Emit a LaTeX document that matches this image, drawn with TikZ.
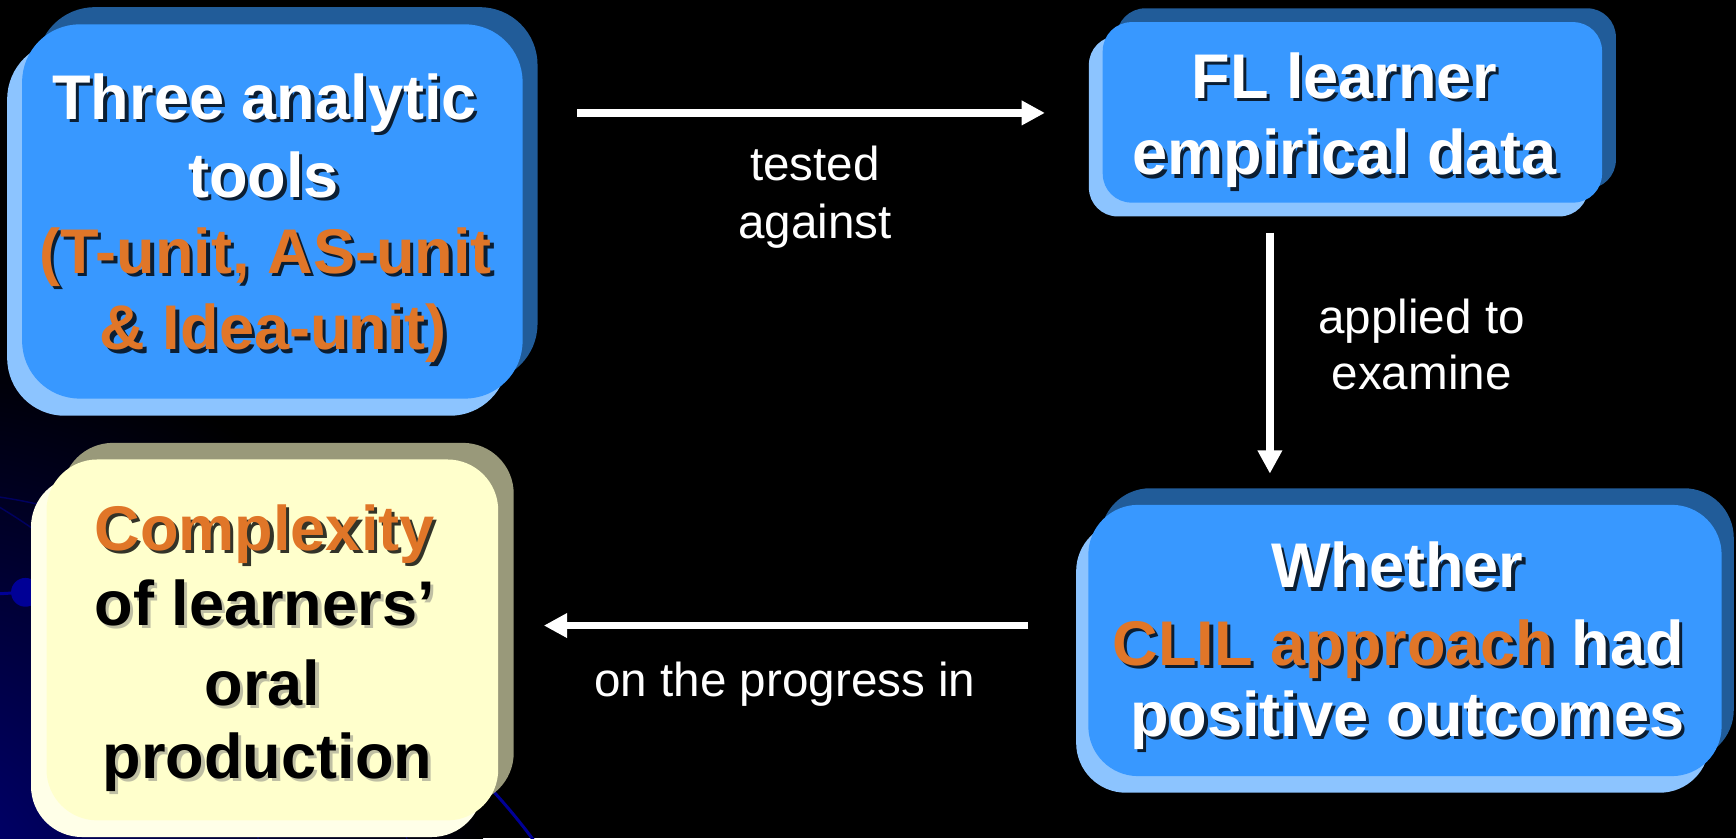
\documentclass[tikz,border=0pt]{standalone}
\usepackage{fontspec}
\setmainfont{Liberation Sans}
\usetikzlibrary{arrows.meta,calc,shadows}

\definecolor{facebl}{RGB}{56,152,255}
\definecolor{darkbl}{RGB}{33,92,153}
\definecolor{lightbl}{RGB}{140,196,255}
\definecolor{faceyl}{RGB}{255,255,204}
\definecolor{darkyl}{RGB}{153,153,122}
\definecolor{lightyl}{RGB}{255,255,232}
\definecolor{accent}{RGB}{224,118,40}
\definecolor{orbit}{RGB}{0,0,150}
\definecolor{deepnavy}{RGB}{0,0,125}
\definecolor{faintnavy}{RGB}{0,0,95}

% orange highlight inside the box texts
\newcommand\hi[1]{\textcolor{accent}{#1}}
% one line of box text with its drop shadow
\newcommand\boxline[5]{%
  \node[linefont,#4] at ($(#2)+(3,3)$) {\renewcommand\hi[1]{##1}#5};
  \node[linefont,text=#3] (#1) at (#2) {#5};
}

\begin{document}
\begin{tikzpicture}[x=1pt,y=-1pt,
  linefont/.style={anchor=base,inner sep=0pt,font=\fontsize{57}{68}\selectfont\bfseries},
  darkshade/.style={text=black,text opacity=0.8},
  greyshade/.style={text=black!55,text opacity=0.45},
  note/.style={anchor=base,inner sep=0pt,text=white,font=\fontsize{43}{52}\selectfont},
  flow/.style={draw=white,line width=6.8pt,-{Triangle[length=21pt,width=21pt]}},
  blueface/.style n args={3}{inner sep=0pt,fill=facebl,rounded corners=#1,
    copy shadow={draw=none,fill=darkbl,shadow xshift=#2,shadow yshift=#3},
    copy shadow={draw=none,fill=lightbl,shadow xshift=-#2,shadow yshift=-#3}},
  yellowface/.style n args={3}{inner sep=0pt,fill=faceyl,rounded corners=#1,
    copy shadow={draw=none,fill=darkyl,shadow xshift=#2,shadow yshift=#3},
    copy shadow={draw=none,fill=lightyl,shadow xshift=-#2,shadow yshift=-#3}},
]
% background
\fill[black] (0,0) rectangle (1568,757);
\useasboundingbox (0,0) rectangle (1568,757);
\begin{scope}
  \clip (0,0) rectangle (1568,757);
  \shade[inner color=deepnavy,outer color=black] (-80,820) circle (520);
  \draw[faintnavy,line width=1.3pt] (-68,903) circle (459);
  \draw[faintnavy,line width=1.3pt] (-272,911) circle (528);
  \draw[orbit,line width=2.7pt] (38,1087) circle (552);
  \fill[orbit] (23,535) circle (13);
\end{scope}

% boxes
\node[blueface={52pt}{13.5pt}{15.5pt},minimum width=452pt,minimum height=338pt] (tools) at (246,191) {};
\node[blueface={26pt}{12.5pt}{12.5pt},minimum width=451pt,minimum height=163pt] (fldata) at (1221.5,101.5) {};
\node[blueface={45pt}{11pt}{15pt},minimum width=572pt,minimum height=245pt] (whether) at (1269,578.5) {};
\node[yellowface={46pt}{14pt}{15pt},minimum width=408pt,minimum height=326pt] (complexity) at (246,578) {};

% box texts
\boxline{t1}{239,108}{white}{darkshade}{Three analytic}
\boxline{t2}{238,178}{white}{darkshade}{tools}
\boxline{t3}{240,247}{white}{darkshade}{\hi{(T-unit, AS-unit}}
\boxline{t4}{247,316}{white}{darkshade}{\hi{\& Idea-unit)}}

\boxline{f1}{1214,89}{white}{darkshade}{FL learner}
\boxline{f2}{1214.5,158}{white}{darkshade}{empirical data}

\boxline{w1}{1262,531}{white}{darkshade}{Whether}
\boxline{w2}{1263,601}{white}{darkshade}{\hi{CLIL approach} had}
\boxline{w3}{1271,665}{white}{darkshade}{positive outcomes}

\boxline{c1}{239,497}{black}{darkshade}{\hi{Complexity}}
\boxline{c2}{239,565}{black}{greyshade}{of learners’}
\boxline{c3}{237,637}{black}{greyshade}{oral}
\boxline{c4}{241.5,703}{black}{greyshade}{production}

% connectors
\coordinate (toprow) at (0,102);
\coordinate (downcol) at (1147,0);
\coordinate (lowrow) at (0,565);
\draw[flow,shorten <=49pt,shorten >=52pt] (tools.east |- toprow) -- (fldata.west |- toprow);
\draw[flow,shorten <=27pt,shorten >=28pt] (fldata.south -| downcol) -- (whether.north -| downcol);
\draw[flow,shorten <=54pt,shorten >=41pt] (whether.west |- lowrow) -- (complexity.east |- lowrow);

% connector labels
\node[note] (l1) at (736,163) {tested};
\node[note] (l2) at (736,215) {against};
\node[note] (l3) at (1284,301) {applied to};
\node[note] (l4) at (1284,352) {examine};
\node[note] (l5) at (709,629) {on the progress in};
\end{tikzpicture}
\end{document}
